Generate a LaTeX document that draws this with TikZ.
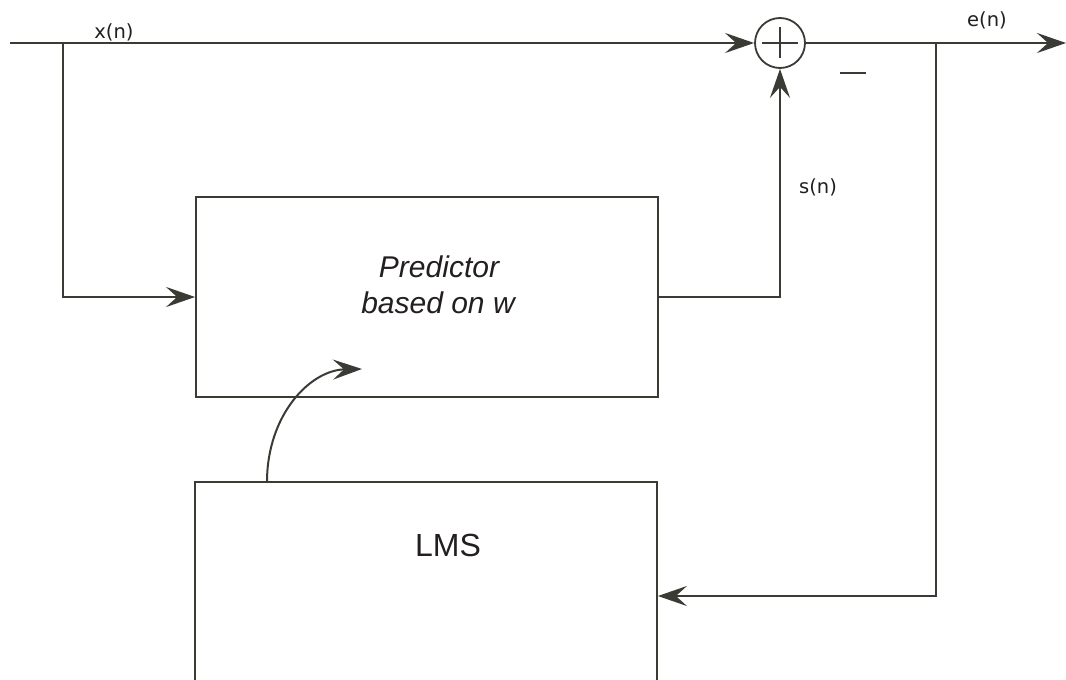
\documentclass[tikz,border=0pt]{standalone}
\usepackage{fontspec}
\setmainfont{Liberation Sans}
\newfontfamily\lblfont{DejaVu Sans}
\usetikzlibrary{arrows.meta,calc}
\definecolor{ln}{HTML}{3B3B36}
\definecolor{tx}{HTML}{231F20}
\tikzset{
  tip/.style={-{Stealth[length=29pt, width=20pt, inset=11pt]}},
  sig/.style={draw=ln, line width=2.6pt},
  arr/.style={sig, tip},
  blk/.style={draw=ln, line width=1.8pt, rectangle, inner sep=0pt},
  sumnode/.style={draw=ln, line width=1.8pt, circle, minimum size=50pt, inner sep=0pt},
  lbl/.style={text=tx, font=\lblfont\fontsize{19.5}{22}\selectfont, inner sep=0pt, anchor=base},
  bigtxt/.style={text=tx, inner sep=0pt, anchor=base},
}
\begin{document}
\begin{tikzpicture}[x=1pt, y=-1pt]
\useasboundingbox (0,0) rectangle (1066,680);
\clip (0,0) rectangle (1066,680);
\fill[white] (0,0) rectangle (1066,680);

% blocks
\node[blk, minimum width=462pt, minimum height=200pt] (pred) at (427,297) {};
\node[blk, minimum width=462pt, minimum height=228pt] (lms) at (426,596) {};
\node[sumnode] (sum) at (780,43) {};
\draw[ln, line width=1.8pt] ($(sum.center)+(-18,0)$) -- ($(sum.center)+(18,0)$);
\draw[ln, line width=1.8pt] ($(sum.center)+(0,-16)$) -- ($(sum.center)+(0,15)$);

% coordinates
\coordinate (in) at (10,43);
\coordinate (br1) at (63,43);
\coordinate (out) at (1066,43);
\coordinate (br2) at (936,43);
\coordinate (cstart) at (267,482);
\coordinate (cend) at (362,369);

% connectors
\draw[arr] (in) -- (sum.west);
\draw[arr] (br1) |- (pred.west);
\draw[arr] (pred.east) -| (sum.south);
\draw[arr] (sum.east) -- (out);
\draw[arr, line width=2.4pt] (br2) |- (lms.east);
\draw[draw=ln, line width=2pt, tip]
  (cstart) .. controls (267,415) and (310,370) .. (cend);

% labels
\node[lbl] (xn) at (114,38.5) {x(n)};
\node[lbl] (en) at (987,26) {e(n)};
\node[lbl] (sn) at (818,193) {s(n)};
\node[text=ln, inner sep=0pt] (minus) at (853,73) {\rule{26pt}{2pt}};
\node[bigtxt, font=\itshape\fontsize{30}{34}\selectfont] (ptxt1) at (439,277) {Predictor};
\node[bigtxt, font=\itshape\fontsize{30}{34}\selectfont] (ptxt2) at (438,313) {based on w};
\node[bigtxt, font=\fontsize{32}{36}\selectfont] (lmstxt) at (448,556) {LMS};
\end{tikzpicture}
\end{document}
